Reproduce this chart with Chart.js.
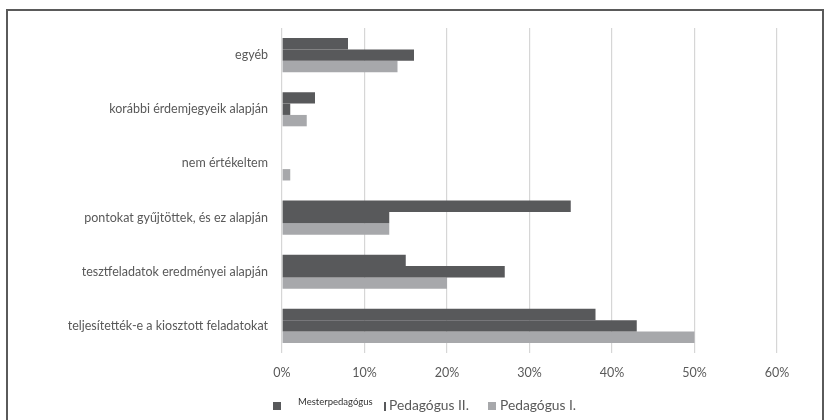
<!DOCTYPE html>
<html>
<head>
<meta charset="utf-8">
<script src="https://cdn.jsdelivr.net/npm/chart.js@4/dist/chart.umd.min.js"></script>
<style>
  html, body { margin: 0; padding: 0; background: #fff; }
  #wrap { position: relative; width: 828px; height: 420px; overflow: hidden; }
  #frame { position: absolute; left: 6px; top: 9px; width: 818px; height: 430px;
           border: 2px solid #5a5a5a; box-sizing: border-box; }
  canvas { position: absolute; left: 0; top: 0; }
</style>
</head>
<body>
<div id="wrap">
  <div id="frame"></div>
  <canvas id="c" width="828" height="420"></canvas>
</div>
<script>
// Answer categories, top to bottom
const categories = [
  'egyéb',
  'korábbi érdemjegyeik alapján',
  'nem értékeltem',
  'pontokat gyűjtöttek, és ez alapján',
  'tesztfeladatok eredményei alapján',
  'teljesítették-e a kiosztott feladatokat'
];
// Share of respondents (%) per group
const mesterpedagogus = [8, 4, 0, 35, 15, 38];
const pedagogusII     = [16, 1, 0, 13, 27, 43];
const pedagogusI      = [14, 3, 1, 13, 20, 50];
const seriesNames = ['Mesterpedagógus', 'Pedagógus II.', 'Pedagógus I.'];

const DARK = '#58595b';
const LIGHT = '#a7a8ab';
const TEXT = '#595959';
const FONT = 'Lato, "Open Sans", sans-serif';

// Legend drawn under the axis, each entry with its own marker and size
const bottomLegend = {
  id: 'bottomLegend',
  afterDraw(chart) {
    const ctx = chart.ctx;
    ctx.save();
    ctx.textBaseline = 'middle';
    ctx.textAlign = 'left';
    // Mesterpedagógus
    ctx.fillStyle = DARK;
    ctx.fillRect(273, 402, 8, 8);
    ctx.fillStyle = '#333';
    ctx.font = '9.5px ' + FONT;
    ctx.fillText(seriesNames[0], 298, 402);
    // Pedagógus II.
    ctx.fillStyle = DARK;
    ctx.fillRect(384, 402, 2, 9);
    ctx.fillStyle = TEXT;
    ctx.font = '13.8px ' + FONT;
    ctx.fillText(seriesNames[1], 389, 406);
    // Pedagógus I.
    ctx.fillStyle = LIGHT;
    ctx.fillRect(488, 402, 8, 8);
    ctx.fillStyle = TEXT;
    ctx.fillText(seriesNames[2], 500, 406);
    ctx.restore();
  }
};

new Chart(document.getElementById('c'), {
  type: 'bar',
  data: {
    labels: categories,
    datasets: [
      { label: seriesNames[0], data: mesterpedagogus, backgroundColor: DARK },
      { label: seriesNames[1], data: pedagogusII, backgroundColor: DARK },
      { label: seriesNames[2], data: pedagogusI, backgroundColor: LIGHT }
    ]
  },
  options: {
    indexAxis: 'y',
    responsive: false,
    animation: false,
    devicePixelRatio: 1,
    layout: { padding: { top: 28, right: 51, bottom: 40, left: 0 } },
    datasets: { bar: { categoryPercentage: 0.63, barPercentage: 1.0 } },
    plugins: { legend: { display: false }, tooltip: { enabled: false } },
    scales: {
      x: {
        min: 0, max: 60,
        ticks: {
          stepSize: 10,
          padding: 12,
          color: TEXT,
          font: { family: FONT, size: 12.5 },
          callback: v => v + '%'
        },
        grid: { color: '#d6d6d6', lineWidth: 1.2, drawTicks: false },
        border: { display: false },
        afterFit(scale) { scale.height = 27; }
      },
      y: {
        ticks: {
          padding: 14,
          color: TEXT,
          font: { family: FONT, size: 12.5 }
        },
        grid: { display: false, drawTicks: false },
        border: { display: false },
        afterFit(scale) { scale.width = 282; }
      }
    }
  },
  plugins: [bottomLegend]
});
</script>
</body>
</html>
